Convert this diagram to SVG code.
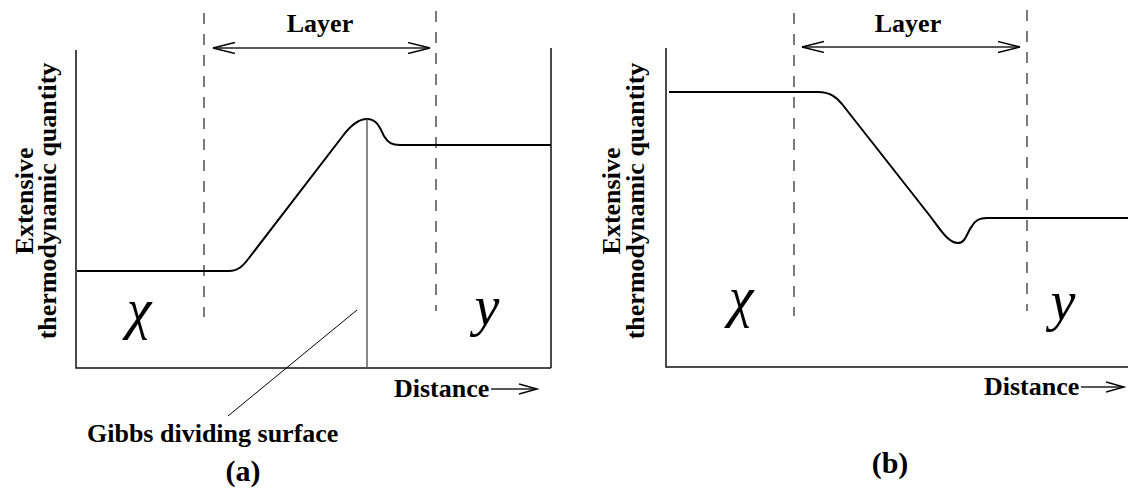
<svg xmlns="http://www.w3.org/2000/svg" width="1130" height="488" viewBox="0 0 1130 488">
  <defs>
    <style>
      .lbl { font-family: "Liberation Serif", "Times New Roman", serif; font-weight: bold; font-size: 26px; fill: #000; }
      .cap { font-family: "Liberation Serif", "Times New Roman", serif; font-weight: bold; font-size: 30px; fill: #000; }
      .sym { font-family: "Liberation Serif", "Times New Roman", serif; font-style: italic; font-size: 56px; fill: #000; }
      .axis { stroke: #111; stroke-width: 1.5; fill: none; }
      .dash { stroke: #333; stroke-width: 1.3; stroke-dasharray: 11 10; fill: none; }
      .curve { stroke: #000; stroke-width: 2; fill: none; stroke-linejoin: round; }
      .arr { stroke: #222; stroke-width: 1.3; fill: none; }
      .thin { stroke: #555; stroke-width: 1.4; fill: none; }
      .lead { stroke: #000; stroke-width: 1; fill: none; }
    </style>
    <marker id="layerHead" markerUnits="userSpaceOnUse" markerWidth="26" markerHeight="14" refX="22" refY="6" orient="auto-start-reverse">
      <path d="M0,0.5 L22,6 L0,11.5" fill="none" stroke="#000" stroke-width="1.4"/>
    </marker>
    <marker id="distHead" markerUnits="userSpaceOnUse" markerWidth="22" markerHeight="14" refX="18" refY="6" orient="auto">
      <path d="M0,1 L18,6 L0,11" fill="none" stroke="#000" stroke-width="1.4"/>
    </marker>
  </defs>

  <g id="panel-a">
    <g id="a-frame">
      <path class="axis" d="M76,50 L76,368 L551,368 M551,48 L551,368"/>
    </g>
    <g id="a-layer-bounds">
      <line class="dash" x1="204" y1="13" x2="204" y2="317"/>
      <line class="dash" x1="436" y1="11" x2="436" y2="311"/>
    </g>
    <g id="a-layer">
      <line class="arr" x1="213" y1="48" x2="430" y2="48" marker-start="url(#layerHead)" marker-end="url(#layerHead)"/>
      <text class="lbl" x="320" y="32" text-anchor="middle">Layer</text>
    </g>
    <g id="a-ylabel">
      <text class="lbl" transform="translate(33,201) rotate(-90)" text-anchor="middle">Extensive</text>
      <text class="lbl" transform="translate(56,201) rotate(-90)" text-anchor="middle">thermodynamic quantity</text>
    </g>
    <g id="a-curve">
      <path class="curve" d="M77,271 L229,271 C238,271 243,266 249,258 L342,137 C350,126 358,119 367,119 C377,119 380,128 384,136 C388,143 392,145 400,145 L551,145"/>
    </g>
    <g id="a-gibbs">
      <line class="thin" x1="367" y1="119" x2="367" y2="368"/>
      <text class="lbl" x="87" y="442">Gibbs dividing surface</text>
    </g>
    <g id="a-phases">
      <text class="sym" x="139" y="328" text-anchor="middle">χ</text>
      <text class="sym" x="487" y="325" text-anchor="middle">y</text>
    </g>
    <g id="a-distance">
      <text class="lbl" x="394" y="397">Distance</text>
      <line class="arr" x1="491" y1="389" x2="537" y2="389" marker-end="url(#distHead)"/>
    </g>
    <text id="a-caption" class="cap" x="243" y="481" text-anchor="middle">(a)</text>
  </g>

  <g id="panel-b">
    <g id="b-frame">
      <path class="axis" d="M666,48 L666,367 L1128,367"/>
    </g>
    <g id="b-layer-bounds">
      <line class="dash" x1="794" y1="13" x2="794" y2="316"/>
      <line class="dash" x1="1027" y1="10" x2="1027" y2="311"/>
    </g>
    <g id="b-layer">
      <line class="arr" x1="802" y1="47" x2="1020" y2="47" marker-start="url(#layerHead)" marker-end="url(#layerHead)"/>
      <text class="lbl" x="908" y="32" text-anchor="middle">Layer</text>
    </g>
    <g id="b-ylabel">
      <text class="lbl" transform="translate(620,201) rotate(-90)" text-anchor="middle">Extensive</text>
      <text class="lbl" transform="translate(644,201) rotate(-90)" text-anchor="middle">thermodynamic quantity</text>
    </g>
    <g id="b-curve">
      <path class="curve" d="M669,92 L818,92 C830,92 836,97 842,104 L930,216 C940,229 948,243 958,243 C966,243 967,232 972,226 C976,220 979,218 987,218 L1128,218"/>
    </g>
    <g id="b-phases">
      <text class="sym" x="741" y="316" text-anchor="middle">χ</text>
      <text class="sym" x="1063" y="320" text-anchor="middle">y</text>
    </g>
    <g id="b-distance">
      <text class="lbl" x="984" y="395">Distance</text>
      <line class="arr" x1="1081" y1="387" x2="1124" y2="387" marker-end="url(#distHead)"/>
    </g>
    <text id="b-caption" class="cap" x="890" y="473" text-anchor="middle">(b)</text>
  </g>

  <g id="connectors">
    <line class="lead" x1="357" y1="310" x2="228" y2="416"/>
  </g>
</svg>
